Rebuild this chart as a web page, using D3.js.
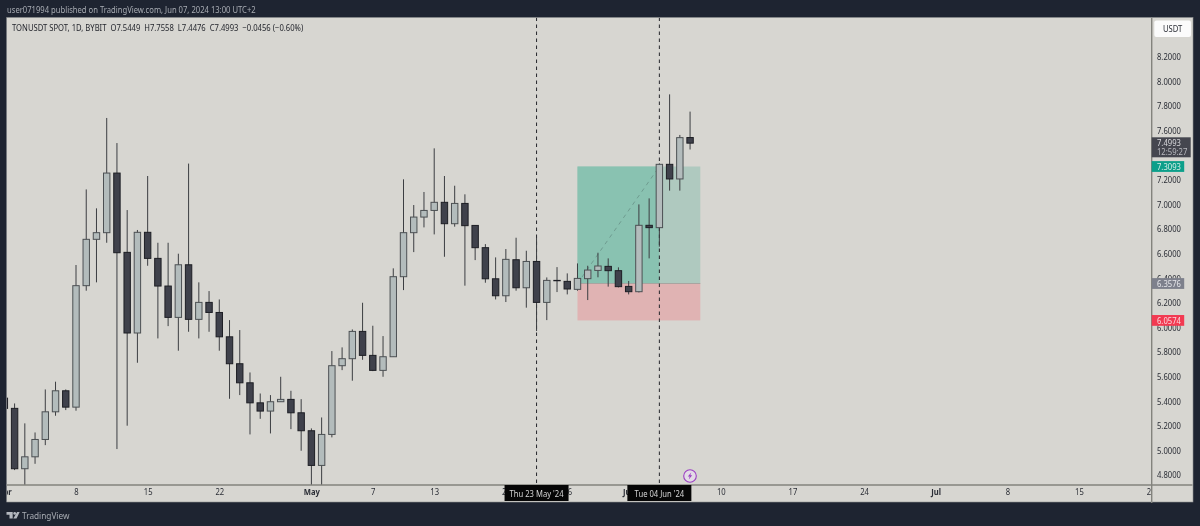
<!DOCTYPE html>
<html><head><meta charset="utf-8">
<script src="https://cdnjs.cloudflare.com/ajax/libs/d3/7.8.5/d3.min.js"></script>
<style>html,body{margin:0;padding:0;background:#1e2431;overflow:hidden}svg{display:block;filter:blur(0.35px)}text{font-family:"Noto Sans",sans-serif}</style>
</head><body><svg id="c" width="1200" height="526"></svg>
<script>
const dates=["2024-04-01","2024-04-02","2024-04-03","2024-04-04","2024-04-05","2024-04-06","2024-04-07","2024-04-08","2024-04-09","2024-04-10","2024-04-11","2024-04-12","2024-04-13","2024-04-14","2024-04-15","2024-04-16","2024-04-17","2024-04-18","2024-04-19","2024-04-20","2024-04-21","2024-04-22","2024-04-23","2024-04-24","2024-04-25","2024-04-26","2024-04-27","2024-04-28","2024-04-29","2024-04-30","2024-05-01","2024-05-02","2024-05-03","2024-05-04","2024-05-05","2024-05-06","2024-05-07","2024-05-08","2024-05-09","2024-05-10","2024-05-11","2024-05-12","2024-05-13","2024-05-14","2024-05-15","2024-05-16","2024-05-17","2024-05-18","2024-05-19","2024-05-20","2024-05-21","2024-05-22","2024-05-23","2024-05-24","2024-05-25","2024-05-26","2024-05-27","2024-05-28","2024-05-29","2024-05-30","2024-05-31","2024-06-01","2024-06-02","2024-06-03","2024-06-04","2024-06-05","2024-06-06","2024-06-07"];
const opens=[5.425,5.342,4.851,4.948,5.089,5.314,5.485,5.352,6.340,6.717,6.771,7.256,6.611,5.955,6.774,6.562,6.337,6.082,6.510,6.066,6.204,6.122,5.924,5.705,5.550,5.387,5.320,5.396,5.415,5.306,5.160,4.878,5.130,5.689,5.746,5.968,5.773,5.651,5.762,6.413,6.771,6.898,6.952,7.018,6.844,7.009,6.830,6.649,6.396,6.258,6.551,6.323,6.537,6.204,6.383,6.375,6.310,6.397,6.464,6.497,6.462,6.334,6.291,6.831,6.812,7.327,7.208,7.5449];
const highs=[5.46,5.382,5.220,5.146,5.496,5.559,5.496,6.508,7.123,6.969,7.704,7.500,6.955,6.793,7.232,6.689,6.689,6.600,7.333,6.367,6.296,6.228,6.060,5.979,5.634,5.463,5.450,5.599,5.485,5.417,5.179,5.268,5.808,5.838,5.984,6.201,6.014,5.930,6.481,7.205,6.996,7.102,7.457,7.232,7.153,7.083,6.830,6.678,6.570,6.638,6.730,6.624,6.730,6.407,6.491,6.440,6.521,6.502,6.608,6.562,6.489,6.378,7.001,7.050,7.335,7.896,7.566,7.7558];
const lows=[5.33,4.840,4.70,4.891,5.043,5.282,5.328,5.323,6.299,6.367,6.689,5.011,5.201,5.713,6.502,5.911,6.011,5.811,5.965,5.911,5.965,5.811,5.420,5.450,5.130,5.257,5.138,5.396,5.173,4.997,4.70,4.70,5.106,5.653,5.567,5.737,5.645,5.599,5.762,6.304,6.613,6.814,6.757,6.575,6.820,6.340,6.548,6.364,6.228,6.207,6.299,6.161,5.971,6.060,6.288,6.269,6.299,6.223,6.408,6.332,6.326,6.269,6.285,6.562,6.657,7.113,7.113,7.4476];
const closes=[5.342,4.851,4.948,5.089,5.314,5.485,5.352,6.340,6.717,6.771,7.256,6.608,5.955,6.774,6.562,6.337,6.082,6.510,6.066,6.204,6.122,5.924,5.705,5.550,5.387,5.320,5.396,5.415,5.306,5.160,4.878,5.130,5.689,5.746,5.968,5.773,5.651,5.762,6.413,6.771,6.898,6.952,7.018,6.844,7.009,6.828,6.649,6.396,6.258,6.554,6.323,6.537,6.204,6.383,6.380,6.313,6.399,6.467,6.500,6.462,6.332,6.291,6.831,6.812,7.327,7.208,7.544,7.4993];
const priceTicks=[8.2,8.0,7.8,7.6,7.2,7.0,6.8,6.6,6.4,6.2,6.0,5.8,5.6,5.4,5.2,5.0,4.8];
const timeTickDates=["2024-04-01","2024-04-08","2024-04-15","2024-04-22","2024-05-01","2024-05-07","2024-05-13","2024-05-20","2024-05-26","2024-06-01","2024-06-10","2024-06-17","2024-06-24","2024-07-01","2024-07-08","2024-07-15","2024-07-22"];
const timeTickLabels=["Apr","8","15","22","May","7","13","20","26","Jun","10","17","24","Jul","8","15","22"];
const boldLabels=["May","Jun","Jul","Apr"];
const crossDates=["2024-05-23","2024-06-04"];
const crossLabels=["Thu 23 May '24","Tue 04 Jun '24"];
const posDates=["2024-05-27","2024-06-04","2024-06-08"];
const posPrices={tp:7.3093,entry:6.3576,sl:6.0574};
const headerText="user071994 published on TradingView.com, Jun 07, 2024 13:00 UTC+2";
const titleText="TONUSDT SPOT, 1D, BYBIT  O7.5449  H7.7558  L7.4476  C7.4993  \u22120.0456 (\u22120.60%)";

const P=d3.utcParse("%Y-%m-%d");
const A={l:6.7,t:17.5,r:1151.7,b:485,ab:502,pr:1193};
const FS=8.7,SQ=0.88;
const x=d3.scaleUtc().domain([P("2024-04-08"),P("2024-07-01")]).range([76,935.7]);
const y=d3.scaleLinear().domain([8.2,4.8]).range([57,475]);
const svg=d3.select("#c");
const defs=svg.append("defs");
defs.append("clipPath").attr("id","plot").append("rect").attr("x",A.l).attr("y",A.t).attr("width",A.r-A.l).attr("height",A.b-A.t);
defs.append("clipPath").attr("id","taxis").append("rect").attr("x",A.l).attr("y",A.b).attr("width",A.r-A.l).attr("height",A.ab-A.b);

svg.append("rect").attr("width",1200).attr("height",526).attr("fill","#1e2431");
svg.append("rect").attr("x",A.l).attr("y",A.t).attr("width",A.pr-A.l).attr("height",A.ab-A.t).attr("fill","#d7d6d1");
svg.append("text").attr("x",7).attr("y",13).attr("fill","#a8acb3").attr("font-size",FS).text(headerText);

const plot=svg.append("g").attr("clip-path","url(#plot)");
const px0=x(P(posDates[0])),px1=x(P(posDates[1])),px2=x(P(posDates[2]));
plot.append("rect").attr("x",px0).attr("width",px2-px0).attr("y",y(posPrices.tp)).attr("height",y(posPrices.entry)-y(posPrices.tp)).attr("fill","#afc9bf");
plot.append("rect").attr("x",px0).attr("width",px1-px0).attr("y",y(posPrices.tp)).attr("height",y(posPrices.entry)-y(posPrices.tp)).attr("fill","#89c2b1");
plot.append("rect").attr("x",px0).attr("width",px2-px0).attr("y",y(posPrices.entry)).attr("height",y(posPrices.sl)-y(posPrices.entry)).attr("fill","#e0b3b3");
plot.append("line").attr("x1",px0).attr("x2",px2).attr("y1",y(posPrices.entry)).attr("y2",y(posPrices.entry)).attr("stroke","#a9a4a0").attr("stroke-width",1);
plot.append("line").attr("x1",px0).attr("x2",px1).attr("y1",y(posPrices.entry)).attr("y2",y(posPrices.tp)).attr("stroke","#6f9c90").attr("stroke-width",1).attr("stroke-dasharray","4 4");
plot.selectAll("line.v").data(crossDates).join("line").attr("class","v")
 .attr("x1",d=>x(P(d))).attr("x2",d=>x(P(d))).attr("y1",A.t).attr("y2",A.b)
 .attr("stroke","#26272c").attr("stroke-width",1).attr("stroke-dasharray","3.5 3.5");
const candles=dates.map((d,i)=>({d:P(d),o:opens[i],h:highs[i],l:lows[i],c:closes[i]}));
const g=plot.selectAll("g.c").data(candles).join("g").attr("class","c");
g.append("line").attr("x1",d=>x(d.d)).attr("x2",d=>x(d.d)).attr("y1",d=>y(d.h)).attr("y2",d=>y(d.l)).attr("stroke","#3c3e42").attr("stroke-width",1);
g.append("rect").attr("x",d=>x(d.d)-3.2).attr("width",6.4)
 .attr("y",d=>y(Math.max(d.o,d.c))).attr("height",d=>Math.abs(y(d.o)-y(d.c)))
 .attr("fill",d=>d.c>=d.o?"#b3bcbc":"#3f414b").attr("stroke",d=>d.c>=d.o?"#4c5053":"#1d1e24").attr("stroke-width",1);

const yAxis=d3.axisRight(y).tickValues(priceTicks).tickSize(0).tickPadding(0).tickFormat(d3.format(".4f"));
const ya=svg.append("g").attr("transform",`translate(${A.r+5.3},0)`).call(yAxis);
ya.select(".domain").remove();
ya.selectAll("text").attr("font-size",FS).attr("fill","#2b2e36").style("font-family",'"Noto Sans",sans-serif');
const lab=d3.scaleOrdinal().domain(timeTickDates.map(s=>+P(s))).range(timeTickLabels);
const xAxis=d3.axisBottom(x).tickValues(timeTickDates.map(P)).tickSize(0).tickPadding(0).tickFormat(d=>lab(+d));
const xa=svg.append("g").attr("clip-path","url(#taxis)").append("g").attr("transform",`translate(0,${A.b+4.3})`).call(xAxis);
xa.select(".domain").remove();
xa.selectAll("text").attr("font-size",FS).attr("fill","#2b2e36").style("font-family",'"Noto Sans",sans-serif')
 .attr("font-weight",(d,i)=>boldLabels.includes(timeTickLabels[i])?700:400);

[[A.l,A.b,A.pr-0.5,A.b],[A.r,A.t,A.r,A.ab+1]].forEach(a=>svg.append("line").attr("x1",a[0]).attr("y1",a[1]).attr("x2",a[2]).attr("y2",a[3]).attr("stroke","#83837d").attr("stroke-width",1.4));
svg.append("rect").attr("x",A.l).attr("y",A.t).attr("width",A.pr-A.l).attr("height",A.ab-A.t).attr("fill","none").attr("stroke","#8d8f92").attr("stroke-width",.6);

svg.append("rect").attr("x",1154.3).attr("y",20.5).attr("width",36.7).attr("height",16.5).attr("rx",2).attr("fill","#fbfbfb");
svg.append("text").attr("x",1172.6).attr("y",32).attr("text-anchor","middle").attr("font-size",FS).attr("fill","#2b2e36").text("USDT");

function tag(v,w,fill,txt,color){
 const cy=y(v);
 svg.append("rect").attr("x",A.r).attr("y",cy-5.4).attr("width",w).attr("height",10.8).attr("fill",fill);
 svg.append("text").attr("x",A.r+5.3).attr("y",cy+3.1).attr("font-size",FS).attr("fill",color).text(txt);
}
tag(posPrices.tp,32.5,"#0c9f8a","7.3093","#d4ece6");
tag(posPrices.entry,32.5,"#7d808c","6.3576","#e6e6ea");
tag(posPrices.sl,32.5,"#f23a52","6.0574","#fbd9de");
svg.append("rect").attr("x",A.r).attr("y",137.3).attr("width",39).attr("height",20).attr("fill","#45464f");
svg.append("text").attr("x",A.r+5.3).attr("y",146.2).attr("font-size",FS).attr("fill","#d8d8dc").text("7.4993");
svg.append("text").attr("x",A.r+5.3).attr("y",155.4).attr("font-size",FS).attr("fill","#b8b9bf").text("12:59:27");

crossDates.forEach((d,i)=>{
 const cx=x(P(d));
 svg.append("rect").attr("x",cx-32).attr("y",A.b).attr("width",64).attr("height",16).attr("fill","#060606");
 svg.append("text").attr("x",cx).attr("y",A.b+11.5).attr("text-anchor","middle").attr("font-size",FS).attr("fill","#d6d6d6").text(crossLabels[i]);
});

svg.append("text").attr("x",12).attr("y",31).attr("font-size",FS).attr("fill","#25272e").style("white-space","pre").text(titleText);

const ic=svg.append("g").attr("transform","translate(690,476)");
ic.append("circle").attr("r",6.3).attr("fill","#e3dbe6").attr("stroke","#9b3fc2").attr("stroke-width",1.1);
ic.append("path").attr("d","M1.2,-3.6 L-2.2,0.6 L-0.3,0.6 L-1.2,3.6 L2.2,-0.7 L0.3,-0.7 Z").attr("fill","#9b3fc2");

const lg=svg.append("g").attr("transform","translate(6.5,512)").attr("fill","#b4b8bf");
lg.append("path").attr("d","M0,0 H6.2 V6.5 H3 V2.8 H0 Z");
lg.append("circle").attr("cx",8.2).attr("cy",1.4).attr("r",1.4);
lg.append("path").attr("d","M10.6,0 H13.2 L10,6.5 H6.8 Z");
svg.append("text").attr("x",22).attr("y",518.8).attr("font-size",9.4).attr("fill","#a8acb3").text("TradingView");

// reference type is narrower than the installed face: squeeze glyphs to measured widths
svg.selectAll("text").each(function(){
 const len=this.getComputedTextLength();
 d3.select(this).attr("textLength",len*SQ).attr("lengthAdjust","spacingAndGlyphs");
});
</script></body></html>
